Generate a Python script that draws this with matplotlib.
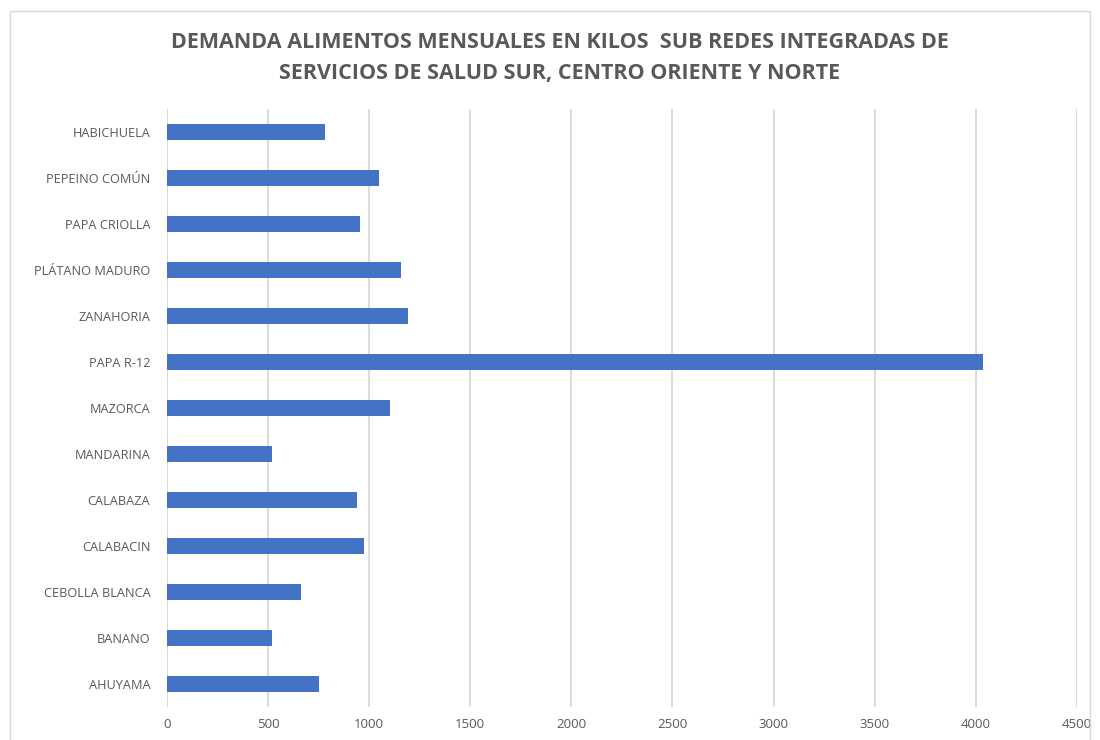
import matplotlib.pyplot as plt
from matplotlib.patches import Rectangle

# categories from bottom to top, as drawn
alimentos = ['AHUYAMA', 'BANANO', 'CEBOLLA BLANCA', 'CALABACIN', 'CALABAZA',
             'MANDARINA', 'MAZORCA', 'PAPA R-12', 'ZANAHORIA', 'PLÁTANO MADURO',
             'PAPA CRIOLLA', 'PEPEINO COMÚN', 'HABICHUELA']
kilos = [752, 517, 661, 974, 940, 521, 1101, 4034, 1190, 1155, 957, 1047, 781]
xticks = [0, 500, 1000, 1500, 2000, 2500, 3000, 3500, 4000, 4500]

titulo = ('DEMANDA ALIMENTOS MENSUALES EN KILOS  SUB REDES INTEGRADAS DE\n'
          'SERVICIOS DE SALUD SUR, CENTRO ORIENTE Y NORTE')

txt = '#595959'
plt.rcParams['font.family'] = ['Open Sans', 'DejaVu Sans']

fig = plt.figure(figsize=(11, 7.4), dpi=100)
fig.patches.append(Rectangle((10/1100, -0.01), 1080/1100, 1 - 11/740 + 0.01,
                             transform=fig.transFigure, fill=False,
                             edgecolor='#d9d9d9', linewidth=1))
ax = fig.add_axes([0.1518, 0.0446, 0.979 - 0.1518, 0.853 - 0.0446])

idx = list(range(len(alimentos)))
ax.barh(idx, kilos, height=0.35, color='#4472C4', zorder=3)
ax.set_yticks(idx)
ax.set_yticklabels(alimentos, fontsize=9.2, color=txt)
ax.set_ylim(-0.5, len(alimentos) - 0.5)
ax.set_xlim(0, 4500)
ax.set_xticks(xticks)
ax.set_xticklabels([str(x) for x in xticks], fontsize=9.5, color=txt)
ax.tick_params(axis='y', length=0, pad=12)
ax.tick_params(axis='x', length=0, pad=8)
ax.grid(axis='x', color='#d9d9d9', linewidth=1.3, zorder=0)
for s in ax.spines.values():
    s.set_visible(False)

fig.text(0.509, 0.922, titulo, ha='center', va='center', fontsize=15.5,
         fontweight='bold', color=txt, linespacing=1.6)

fig.savefig('out.png', dpi=100)
